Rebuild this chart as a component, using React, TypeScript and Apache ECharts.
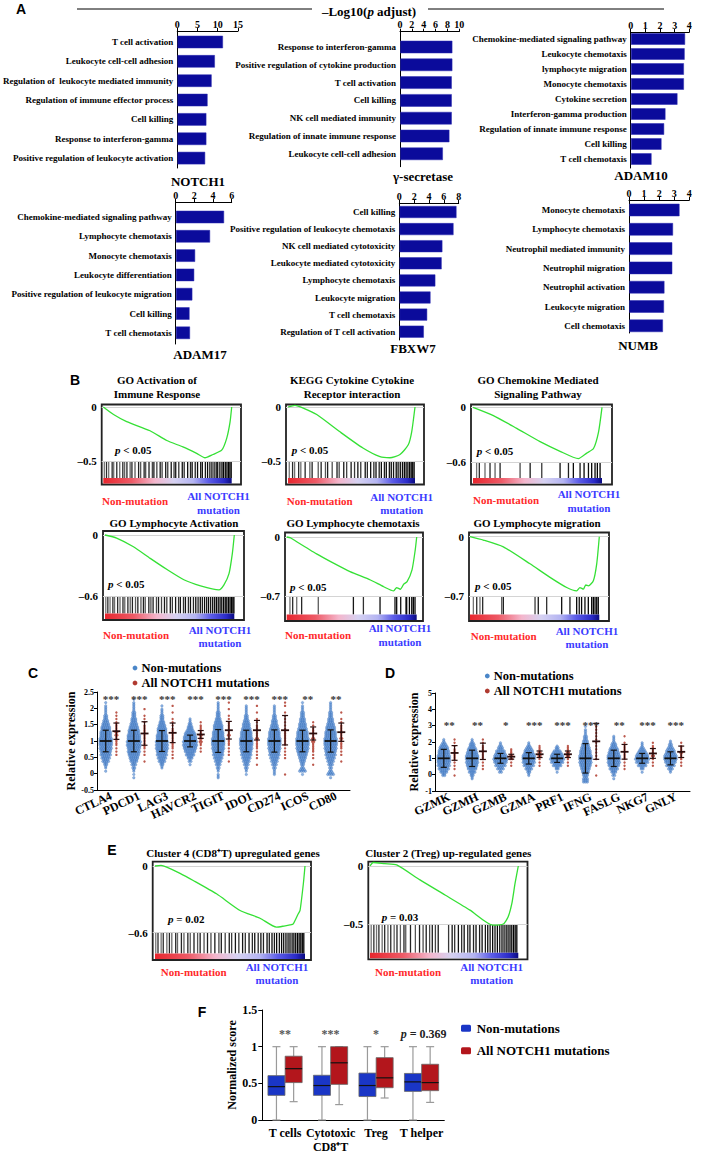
import React, { useEffect, useRef } from "react";
import * as echarts from "echarts";

const SERIF = "'Liberation Serif','Times New Roman',serif";
const SANS = "'Liberation Sans',Arial,sans-serif";

// ---------------- Panel A : GO terms, -log10(p adjust) ----------------
const notch1Terms = ["T cell activation", "Leukocyte cell-cell adhesion", "Regulation of  leukocyte mediated immunity", "Regulation of immune effector process", "Cell killing", "Response to interferon-gamma", "Positive regulation of leukocyte activation"];
const notch1Values = [11.1, 9.1, 8.3, 7.3, 7.0, 7.0, 6.7];
const gammaTerms = ["Response to interferon-gamma", "Positive regulation of cytokine production", "T cell activation", "Cell killing", "NK cell mediated immunity", "Regulation of innate immune response", "Leukocyte cell-cell adhesion"];
const gammaValues = [8.7, 8.7, 8.6, 8.6, 8.6, 8.2, 7.1];
const adam10Terms = ["Chemokine-mediated signaling pathway", "Leukocyte chemotaxis", "lymphocyte migration", "Monocyte chemotaxis", "Cytokine secretion", "Interferon-gamma production", "Regulation of innate immune response", "Cell killing", "T cell chemotaxis"];
const adam10Values = [3.66, 3.63, 3.58, 3.58, 3.14, 2.32, 2.23, 2.05, 1.37];
const adam17Terms = ["Chemokine-mediated signaling pathway", "Lymphocyte chemotaxis", "Monocyte chemotaxis", "Leukocyte differentiation", "Positive regulation of leukocyte migration", "Cell killing", "T cell chemotaxis"];
const adam17Values = [5.1, 3.6, 2.0, 1.9, 1.7, 1.4, 1.45];
const fbxw7Terms = ["Cell killing", "Positive regulation of leukocyte chemotaxis", "NK cell mediated cytotoxicity", "Leukocyte mediated cytotoxicity", "Lymphocyte chemotaxis", "Leukocyte migration", "T cell chemotaxis", "Regulation of T cell activation"];
const fbxw7Values = [7.6, 7.2, 5.7, 5.6, 4.75, 4.1, 3.65, 3.2];
const numbTerms = ["Monocyte chemotaxis", "Lymphocyte chemotaxis", "Neutrophil mediated immunity", "Neutrophil migration", "Neutrophil activation", "Leukocyte migration", "Cell chemotaxis"];
const numbValues = [3.3, 2.87, 2.82, 2.82, 2.3, 2.27, 2.2];

// ---------------- Panel B / E : GSEA running enrichment scores ----------------
const g1X = [0, 8, 18.2, 36.4, 49.4, 62, 72.7, 79.2, 85.4, 92.2, 96.1, 98.7, 100];
const g1Y = [0, -0.07, -0.136, -0.22, -0.31, -0.37, -0.43, -0.47, -0.44, -0.4, -0.29, -0.14, 0];
const g1Hits = [0.8, 2.5, 4.2, 6.9, 8.1, 10.5, 12.8, 15.2, 16.6, 18.4, 20.9, 22.3, 24.7, 27.5, 29.1, 31.8, 33.0, 35.6, 38.2, 39.4, 41.7, 44.3, 45.8, 48.6, 50.2, 52.9, 55.1, 56.4, 58.8, 61.5, 63.0, 65.7, 67.9, 69.2, 71.6, 73.4, 75.8, 77.1, 79.5, 81.2, 83.0, 84.6, 86.3, 87.9, 89.1, 90.8, 92.4, 93.6, 95.0, 96.3, 97.5, 98.6, 99.6];
const g2X = [0, 5.5, 12, 22.6, 40.9, 59, 72.4, 80.3, 88.2, 94.7, 97.4, 100];
const g2Y = [0, 0.015, -0.01, -0.07, -0.23, -0.38, -0.46, -0.47, -0.44, -0.35, -0.23, 0];
const g2Hits = [1.0, 3.6, 5.2, 8.4, 10.1, 13.5, 17.2, 19.0, 23.8, 26.1, 29.5, 31.2, 34.8, 38.6, 40.3, 43.9, 46.2, 49.7, 52.4, 55.0, 57.3, 60.8, 62.5, 65.1, 67.6, 69.3, 71.8, 73.5, 75.9, 77.4, 79.8, 81.3, 83.1, 85.2, 86.7, 88.4, 90.1, 91.6, 93.0, 94.4, 95.8, 97.0, 98.2, 99.3];
const g3X = [0, 15.8, 33.9, 52, 67.5, 81.7, 88.2, 93.4, 97.3, 100];
const g3Y = [0, -0.09, -0.23, -0.375, -0.48, -0.56, -0.5, -0.45, -0.27, 0];
const g3Hits = [2.8, 4.9, 9.3, 13.2, 17.1, 21.0, 36.5, 44.3, 53.3, 67.5, 74.0, 77.8, 83.0, 86.1, 89.5, 92.0, 94.6, 96.4, 98.5];
const g4X = [0, 9, 22, 35, 48, 61, 73.9, 88.1, 92, 95.9, 98.5, 100];
const g4Y = [0, -0.03, -0.116, -0.23, -0.34, -0.44, -0.5, -0.54, -0.49, -0.38, -0.18, 0];
const g4Hits = [0.6, 2.2, 3.9, 6.1, 7.4, 9.8, 11.6, 13.9, 15.3, 17.7, 19.5, 21.2, 23.6, 25.4, 27.8, 29.7, 31.1, 33.9, 35.5, 37.2, 39.8, 41.4, 43.7, 46.0, 47.8, 50.5, 52.1, 54.6, 56.9, 58.3, 60.7, 62.2, 64.5, 66.1, 68.4, 70.2, 72.0, 73.7, 75.3, 77.0, 78.6, 80.1, 81.7, 83.3, 84.8, 86.2, 87.6, 89.0, 90.3, 91.7, 93.0, 94.2, 95.5, 96.7, 97.8, 98.9, 99.7];
const g5X = [0, 3, 5, 23, 36, 48.7, 64.4, 74.6, 82.3, 84.5, 87.4, 90, 92.6, 96.4, 98.9, 100];
const g5Y = [0, -0.01, -0.03, -0.2, -0.31, -0.41, -0.51, -0.59, -0.64, -0.6, -0.62, -0.56, -0.53, -0.39, -0.15, 0];
const g5Hits = [2.5, 4.6, 7.7, 11.5, 24.3, 51.3, 59.0, 71.8, 83.3, 84.6, 87.7, 91.8, 92.3, 94.4, 96.2, 97.4, 98.7];
const g6X = [0, 10.3, 25.8, 46.4, 61.9, 74.8, 82.5, 85, 87.7, 89.5, 91.6, 95.4, 98, 100];
const g6Y = [0, -0.04, -0.12, -0.32, -0.48, -0.6, -0.64, -0.6, -0.62, -0.57, -0.58, -0.52, -0.32, 0];
const g6Hits = [2.6, 5.2, 7.7, 9.8, 24.5, 25.8, 50.3, 52.8, 59.3, 70.9, 77.3, 82.5, 84.5, 86.3, 88.9, 91.5, 94.1, 95.4, 96.7, 98.0, 99.2];
const e1X = [0, 4, 7.8, 16.7, 25.5, 41, 56.7, 70, 81, 86, 90, 92.2, 95.5, 96.7, 98.9, 100];
const e1Y = [0, 0.005, -0.01, -0.066, -0.13, -0.25, -0.4, -0.47, -0.55, -0.54, -0.53, -0.52, -0.43, -0.4, -0.16, 0];
const e1Hits = [0.5, 2.0, 4.1, 5.5, 7.9, 9.6, 11.2, 13.8, 15.0, 17.6, 19.3, 21.9, 23.5, 26.0, 28.4, 30.1, 32.7, 35.0, 37.3, 39.9, 42.6, 44.2, 46.8, 49.5, 51.1, 53.6, 55.9, 58.4, 60.2, 62.7, 64.9, 66.5, 68.8, 70.6, 72.3, 74.7, 76.2, 78.0, 79.6, 81.1, 82.9, 84.4, 85.8, 87.3, 88.7, 90.0, 91.4, 92.6, 93.8, 95.0, 96.1, 97.2, 98.2, 99.2];
const e2X = [0, 2.2, 10, 18, 33.7, 50.6, 67.4, 82.9, 89.9, 93.1, 95.7, 97.8, 100];
const e2Y = [0, 0.03, 0.02, 0.01, -0.12, -0.25, -0.38, -0.51, -0.5, -0.44, -0.32, -0.15, 0];
const e2Hits = [0.8, 2.6, 4.4, 6.0, 8.2, 9.9, 12.1, 14.0, 16.3, 18.2, 20.5, 22.9, 24.1, 27.3, 30.6, 33.4, 35.8, 37.9, 40.2, 42.0, 44.1, 46.0, 53.0, 55.4, 57.1, 59.6, 61.8, 63.5, 65.9, 67.4, 69.8, 71.5, 73.9, 75.6, 77.8, 79.4, 81.0, 82.7, 84.3, 85.9, 87.5, 89.0, 90.4, 91.8, 93.1, 94.4, 95.6, 96.8, 97.9, 99.0];

// ---------------- Panel C : immune checkpoint expression ----------------
const cGenes = ["CTLA4", "PDCD1", "LAG3", "HAVCR2", "TIGIT", "IDO1", "CD274", "ICOS", "CD80"];
const cStars = ["***", "***", "***", "***", "***", "***", "***", "**", "**"];
// counts per 0.1 bin, bins from -0.1 to 2.4
const cBlueCounts = [
  [0, 0, 1, 2, 4, 7, 9, 11, 12, 13, 14, 14, 13, 12, 11, 10, 8, 6, 4, 3, 2, 2, 1, 1, 0, 0],
  [1, 1, 2, 3, 5, 8, 10, 12, 13, 14, 15, 15, 14, 13, 12, 10, 8, 6, 5, 4, 3, 2, 2, 1, 1, 0],
  [0, 0, 0, 2, 4, 7, 9, 11, 12, 13, 13, 13, 12, 11, 10, 9, 7, 5, 4, 3, 2, 1, 1, 0, 0, 0],
  [0, 0, 0, 0, 1, 3, 6, 9, 12, 14, 15, 15, 14, 12, 9, 6, 4, 2, 1, 0, 0, 0, 0, 0, 0, 0],
  [2, 1, 2, 3, 5, 7, 9, 11, 12, 13, 14, 14, 13, 12, 11, 10, 9, 7, 5, 4, 3, 2, 2, 1, 0, 0],
  [0, 1, 2, 3, 5, 7, 9, 11, 12, 13, 14, 14, 13, 12, 11, 9, 8, 6, 4, 3, 2, 2, 1, 0, 0, 0],
  [0, 2, 2, 3, 5, 7, 9, 11, 12, 13, 14, 14, 13, 12, 11, 9, 7, 6, 4, 3, 2, 2, 1, 0, 0, 0],
  [0, 1, 7, 3, 4, 6, 8, 10, 12, 13, 14, 14, 13, 12, 11, 9, 8, 6, 5, 4, 3, 2, 1, 1, 0, 0],
  [1, 7, 3, 3, 5, 7, 9, 11, 12, 13, 14, 14, 13, 12, 11, 10, 8, 6, 5, 4, 3, 2, 2, 1, 0, 0],
];
const cRedCounts = [
  [0, 0, 0, 0, 0, 0, 0, 1, 1, 1, 2, 2, 2, 3, 3, 2, 2, 1, 1, 1, 1, 0, 0, 0, 0, 0],
  [0, 0, 0, 0, 0, 1, 0, 1, 1, 2, 2, 2, 2, 2, 2, 2, 1, 1, 1, 1, 0, 1, 0, 0, 0, 0],
  [0, 0, 0, 0, 0, 0, 1, 1, 1, 2, 2, 2, 2, 2, 2, 1, 1, 1, 1, 0, 1, 0, 1, 0, 0, 0],
  [0, 0, 0, 0, 0, 0, 0, 0, 1, 1, 2, 3, 3, 3, 2, 2, 1, 1, 0, 0, 0, 0, 0, 0, 0, 0],
  [0, 0, 0, 0, 0, 1, 0, 1, 1, 1, 2, 2, 2, 3, 2, 2, 2, 1, 1, 1, 0, 1, 0, 1, 0, 0],
  [0, 0, 0, 0, 1, 0, 1, 1, 1, 2, 2, 2, 3, 2, 2, 2, 1, 1, 1, 0, 1, 0, 1, 0, 0, 0],
  [0, 1, 0, 0, 0, 0, 1, 1, 1, 1, 2, 2, 2, 2, 2, 1, 1, 1, 1, 1, 1, 0, 1, 1, 0, 0],
  [0, 0, 0, 0, 1, 0, 1, 1, 2, 2, 2, 3, 3, 2, 2, 1, 1, 1, 0, 0, 0, 0, 0, 0, 0, 0],
  [0, 0, 0, 0, 0, 1, 0, 1, 1, 2, 2, 2, 3, 2, 2, 2, 1, 1, 1, 0, 1, 0, 0, 0, 0, 0],
];
const cBlueMean = [1, 1, 1, 1, 1, 1, 1, 1, 1];
const cBlueSD = [0.33, 0.33, 0.32, 0.18, 0.35, 0.33, 0.34, 0.33, 0.34];
const cRedMean = [1.3, 1.23, 1.25, 1.2, 1.33, 1.33, 1.33, 1.23, 1.27];
const cRedSD = [0.25, 0.36, 0.3, 0.12, 0.27, 0.3, 0.45, 0.2, 0.28];

// ---------------- Panel D : cytotoxic genes ----------------
const dGenes = ["GZMK", "GZMH", "GZMB", "GZMA", "PRF1", "IFNG", "FASLG", "NKG7", "GNLY"];
const dStars = ["**", "**", "*", "***", "***", "***", "**", "***", "***"];
// counts per 0.2 bin, bins from -0.4 to 3.2
const dBlueCounts = [
  [0, 0, 4, 8, 11, 13, 14, 14, 13, 12, 10, 7, 3, 1, 0, 0, 0, 0, 0],
  [0, 2, 4, 7, 10, 12, 13, 14, 13, 11, 9, 6, 3, 1, 0, 0, 0, 0, 0],
  [0, 0, 0, 3, 7, 11, 14, 15, 13, 10, 6, 3, 1, 0, 0, 0, 0, 0, 0],
  [0, 0, 2, 4, 7, 11, 13, 14, 13, 10, 7, 3, 1, 0, 0, 0, 0, 0, 0],
  [0, 0, 0, 1, 4, 9, 13, 15, 13, 9, 4, 1, 0, 0, 0, 0, 0, 0, 0],
  [6, 5, 6, 8, 10, 12, 13, 14, 13, 12, 10, 8, 6, 4, 3, 2, 1, 1, 0],
  [0, 1, 3, 6, 9, 12, 13, 14, 13, 11, 9, 6, 3, 2, 1, 0, 0, 0, 0],
  [0, 0, 0, 1, 4, 9, 13, 15, 13, 9, 5, 2, 1, 0, 0, 0, 0, 0, 0],
  [0, 0, 0, 2, 5, 9, 12, 14, 13, 10, 7, 4, 2, 0, 0, 0, 0, 0, 0],
];
const dRedCounts = [
  [0, 0, 1, 0, 1, 1, 1, 2, 2, 2, 1, 1, 1, 1, 0, 0, 0, 0, 0],
  [0, 0, 0, 0, 1, 1, 1, 2, 2, 2, 2, 1, 1, 1, 0, 0, 0, 0, 0],
  [0, 0, 0, 0, 0, 1, 1, 3, 3, 2, 1, 0, 0, 0, 0, 0, 0, 0, 0],
  [0, 0, 0, 0, 0, 1, 1, 2, 3, 3, 2, 1, 0, 0, 0, 0, 0, 0, 0],
  [0, 0, 0, 0, 0, 1, 1, 2, 3, 3, 2, 1, 0, 0, 0, 0, 0, 0, 0],
  [0, 0, 1, 0, 0, 1, 0, 1, 1, 1, 1, 1, 1, 1, 1, 1, 1, 1, 0],
  [0, 0, 0, 0, 1, 1, 1, 2, 2, 2, 2, 1, 1, 0, 1, 0, 0, 0, 0],
  [0, 0, 0, 0, 0, 1, 1, 2, 3, 2, 2, 1, 1, 0, 0, 0, 0, 0, 0],
  [0, 0, 0, 0, 0, 1, 1, 2, 2, 3, 2, 1, 1, 0, 0, 0, 0, 0, 0],
];
const dBlueMean = [1, 1, 1, 1, 1, 1, 1, 1, 1];
const dBlueSD = [0.55, 0.5, 0.3, 0.35, 0.25, 0.9, 0.5, 0.3, 0.4];
const dRedMean = [1.33, 1.43, 1.1, 1.25, 1.25, 2.04, 1.4, 1.3, 1.4];
const dRedSD = [0.45, 0.5, 0.15, 0.2, 0.2, 1.1, 0.45, 0.3, 0.35];

// ---------------- Panel F : normalized scores (min, Q1, median, Q3, max) ----------------
const fCategories = ["T cells", "Cytotoxic\nCD8⁺T", "Treg", "T helper"];
const fNonMut = [[0, 0.336, 0.455, 0.605, 1.0], [0, 0.336, 0.47, 0.61, 1.0], [0, 0.32, 0.47, 0.64, 1.0], [0, 0.39, 0.52, 0.635, 1.0]];
const fMut = [[0.25, 0.51, 0.7, 0.87, 1.0], [0.21, 0.486, 0.78, 1.0, 1.0], [0.3, 0.44, 0.575, 0.85, 1.0], [0.24, 0.4, 0.51, 0.76, 1.0]];
const fLabels = ["**", "***", "*", "{i|p} = 0.369"];

function txt(text: string, x: number, y: number, o: any = {}) {
  const align = o.align || "left";
  const va = o.va || "middle";
  return {
    type: "text", x, y, silent: true, z: 100,
    style: {
      text, fill: o.color || "#000", fontSize: o.size || 11, fontWeight: o.weight || "bold",
      fontFamily: o.family || SERIF, fontStyle: o.fstyle || "normal",
      align, textAlign: align, verticalAlign: va, textVerticalAlign: va,
      rich: o.rich,
    },
  };
}

function buildOption() {
  const grids: any[] = [];
  const xAxes: any[] = [];
  const yAxes: any[] = [];
  const series: any[] = [];
  const graphics: any[] = [];
  const italicRich = (size: number, color = "#000") => ({
    i: { fontStyle: "italic", fontWeight: "bold", fontSize: size, fontFamily: SERIF, fill: color, color },
  });

  // ---------- Panel A ----------
  const barPanels = [
    { title: "NOTCH1", names: notch1Terms, values: notch1Values, max: 15, interval: 5, x0: 175.7, len: 62.3, top: 31, bottom: 168, first: 42, step: 19.35, barH: 12, tx: 198, ty: 181 },
    { title: "γ-secretase", names: gammaTerms, values: gammaValues, max: 10, interval: 2, x0: 400, len: 59.3, top: 31.7, bottom: 166.7, first: 47, step: 17.8, barH: 12, tx: 423, ty: 176 },
    { title: "ADAM10", names: adam10Terms, values: adam10Values, max: 4, interval: 1, x0: 630.7, len: 58.6, top: 32, bottom: 168, first: 39, step: 15, barH: 11, tx: 641, ty: 175 },
    { title: "ADAM17", names: adam17Terms, values: adam17Values, max: 6, interval: 2, x0: 175.7, len: 56, top: 202, bottom: 344, first: 217, step: 19.3, barH: 12, tx: 200, ty: 354 },
    { title: "FBXW7", names: fbxw7Terms, values: fbxw7Values, max: 8, interval: 2, x0: 399.3, len: 59.4, top: 203, bottom: 340, first: 212, step: 17.1, barH: 11.5, tx: 413, ty: 348 },
    { title: "NUMB", names: numbTerms, values: numbValues, max: 4, interval: 1, x0: 629, len: 60.3, top: 200, bottom: 333, first: 210, step: 19.3, barH: 12, tx: 638, ty: 345 },
  ];
  barPanels.forEach((p) => {
    const n = p.names.length;
    const last = p.first + (n - 1) * p.step;
    grids.push({ left: p.x0, top: p.top, width: p.len, height: p.bottom - p.top });
    const gi = grids.length - 1;
    xAxes.push({
      gridIndex: gi, type: "value", position: "top", min: 0, max: p.max, interval: p.interval,
      axisLine: { show: true, onZero: false, lineStyle: { color: "#000", width: 1 } },
      axisTick: { show: true, length: 3, lineStyle: { color: "#000" } },
      axisLabel: { fontSize: 10, fontWeight: "bold", fontFamily: SERIF, color: "#000", margin: 2 },
      splitLine: { show: false },
    });
    const xi = xAxes.length - 1;
    yAxes.push({
      gridIndex: gi, type: "value", inverse: true,
      min: -(p.first - p.top) / p.step, max: n - 1 + (p.bottom - last) / p.step,
      axisLine: { show: true, onZero: false, lineStyle: { color: "#000", width: 1 } },
      axisTick: { show: false }, splitLine: { show: false },
      axisLabel: {
        customValues: p.names.map((_, i) => i),
        formatter: (v: number) => p.names[Math.round(v)] ?? "",
        fontSize: 9, fontWeight: "bold", fontFamily: SERIF, color: "#000", margin: 4,
      },
    });
    const yi = yAxes.length - 1;
    series.push({
      type: "custom", xAxisIndex: xi, yAxisIndex: yi, encode: { x: 0, y: 1 },
      data: p.values.map((v, i) => [v, i]),
      renderItem: (_: any, api: any) => {
        const a = api.coord([0, api.value(1)]);
        const b = api.coord([api.value(0), api.value(1)]);
        return { type: "rect", shape: { x: a[0] + 0.5, y: a[1] - p.barH / 2, width: b[0] - a[0], height: p.barH }, style: { fill: "#0b0b9b", stroke: "#2a2ab0", lineWidth: 0.5 } };
      },
    });
    graphics.push(txt(p.title, p.tx, p.ty, { size: 13, align: "center" }));
  });
  // header
  graphics.push({ type: "line", silent: true, shape: { x1: 77, y1: 9, x2: 312, y2: 9 }, style: { stroke: "#000", lineWidth: 1 } });
  graphics.push({ type: "line", silent: true, shape: { x1: 428, y1: 9, x2: 664, y2: 9 }, style: { stroke: "#000", lineWidth: 1 } });
  graphics.push(txt("–Log10({i|p} adjust)", 369, 11, { size: 13, align: "center", rich: italicRich(13) }));

  // ---------- Panels B & E : GSEA ----------
  const gseaPanels = [
    { title: ["GO Activation of", "Immune Response"], tx: 157, ty: 380, box: [101.7, 404.5, 241, 484.5], dataL: 103.3, dataR: 231.7, y0: 407, minLabel: -0.5, minPx: 461, xs: g1X, ys: g1Y, hits: g1Hits, p: "{i|p} < 0.05", px: 115, py: 450, nonX: 102, nonY: 501, allX: 218.5, allY: 496 },
    { title: ["KEGG Cytokine Cytokine", "Receptor interaction"], tx: 352, ty: 380, box: [286, 404.5, 424, 484.5], dataL: 288, dataR: 415, y0: 407, minLabel: -0.5, minPx: 461, xs: g2X, ys: g2Y, hits: g2Hits, p: "{i|p} < 0.05", px: 291.7, py: 450, nonX: 286.7, nonY: 501, allX: 401.7, allY: 496.5 },
    { title: ["GO Chemokine Mediated", "Signaling Pathway"], tx: 538, ty: 380, box: [471, 404.5, 612, 484.5], dataL: 473, dataR: 602, y0: 407.3, minLabel: -0.6, minPx: 462.3, xs: g3X, ys: g3Y, hits: g3Hits, p: "{i|p} < 0.05", px: 476.7, py: 451, nonX: 473, nonY: 499.7, allX: 589, allY: 494 },
    { title: ["GO Lymphocyte Activation"], tx: 174, ty: 523, box: [103, 531, 244, 620], dataL: 105, dataR: 234.3, y0: 535, minLabel: -0.6, minPx: 596, xs: g4X, ys: g4Y, hits: g4Hits, p: "{i|p} < 0.05", px: 108, py: 584, nonX: 103, nonY: 635, allX: 220, allY: 629.7 },
    { title: ["GO Lymphocyte chemotaxis"], tx: 353, ty: 523, box: [285, 532.5, 423, 621], dataL: 286.7, dataR: 416.7, y0: 537, minLabel: -0.7, minPx: 596, xs: g5X, ys: g5Y, hits: g5Hits, p: "{i|p} < 0.05", px: 290, py: 586.7, nonX: 285, nonY: 634.5, allX: 400, allY: 628.3 },
    { title: ["GO Lymphocyte migration"], tx: 537, ty: 523, box: [469, 532.5, 609, 621], dataL: 470, dataR: 599.3, y0: 536.7, minLabel: -0.7, minPx: 596, xs: g6X, ys: g6Y, hits: g6Hits, p: "{i|p} < 0.05", px: 475, py: 586, nonX: 470.7, nonY: 636, allX: 587, allY: 630.7 },
    { title: ["Cluster 4 (CD8⁺T) upregulated genes"], tx: 233, ty: 852.7, box: [152.7, 861.7, 311, 960], dataL: 155, dataR: 305, y0: 866, minLabel: -0.6, minPx: 932.7, xs: e1X, ys: e1Y, hits: e1Hits, p: "{i|p} = 0.02", px: 168, py: 919.3, nonX: 160.7, nonY: 971.7, allX: 277, allY: 966.7 },
    { title: ["Cluster 2 (Treg) up-regulated genes"], tx: 448.3, ty: 852.7, box: [368.3, 861.7, 527.5, 959.3], dataL: 370, dataR: 518.3, y0: 866, minLabel: -0.5, minPx: 924, xs: e2X, ys: e2Y, hits: e2Hits, p: "{i|p} = 0.03", px: 381.7, py: 917.3, nonX: 375, nonY: 972.3, allX: 491.7, allY: 966.7 },
  ];
  gseaPanels.forEach((g) => {
    const [l, t, r, b] = g.box;
    const u = (g.dataR - g.dataL) / 100;
    const xmin = -(g.dataL - l) / u;
    const xmax = 100 + (r - g.dataR) / u;
    const s = (g.minPx - g.y0) / -g.minLabel;
    const ymax = (g.y0 - t) / s;
    const ymin = -(b - g.y0) / s;
    const gradTop = -(b - 6.5 - g.y0) / s;
    const gradBot = -(b - 1 - g.y0) / s;
    grids.push({ left: l, top: t, width: r - l, height: b - t, show: true, borderColor: "#222", borderWidth: 1.8, backgroundColor: "#fff" });
    const gi = grids.length - 1;
    xAxes.push({ gridIndex: gi, type: "value", min: xmin, max: xmax, show: false });
    const xi = xAxes.length - 1;
    yAxes.push({
      gridIndex: gi, type: "value", min: ymin, max: ymax,
      axisLine: { show: false }, axisTick: { show: false }, splitLine: { show: false },
      axisLabel: {
        customValues: [g.minLabel, 0],
        formatter: (v: number) => (Math.abs(v) < 1e-9 ? "0" : "–" + Math.abs(v)),
        fontSize: 11, fontWeight: "bold", fontFamily: SERIF, color: "#000", margin: 5,
      },
    });
    const yi = yAxes.length - 1;
    series.push({
      type: "line", xAxisIndex: xi, yAxisIndex: yi, showSymbol: false, smooth: 0.2,
      data: g.xs.map((x, i) => [x, g.ys[i]]),
      lineStyle: { color: "#35e035", width: 1.3 }, z: 5,
      markLine: {
        silent: true, symbol: ["none", "none"], label: { show: false },
        lineStyle: { color: "#d4d4d4", width: 1, type: "solid" },
        data: [{ yAxis: 0 }, { yAxis: g.minLabel }],
      },
    });
    series.push({
      type: "custom", xAxisIndex: xi, yAxisIndex: yi, encode: { x: 0, y: 1 },
      data: g.hits.map((h) => [h, 0]),
      renderItem: (params: any, api: any) => {
        const h = api.value(0);
        const a = api.coord([h, g.minLabel]);
        const c = api.coord([h, gradTop]);
        const base = 150 * (1 - h / 100);
        const gray = Math.round(params.dataIndex % 2 ? base * 0.3 : base * 0.8);
        return { type: "line", shape: { x1: a[0], y1: a[1], x2: c[0], y2: c[1] }, style: { stroke: `rgb(${gray},${gray},${gray})`, lineWidth: 1.3 } };
      },
    });
    series.push({
      type: "custom", xAxisIndex: xi, yAxisIndex: yi, encode: { x: 0, y: 1 },
      data: [[0, 0]],
      renderItem: (_: any, api: any) => {
        const a = api.coord([0, gradTop]);
        const c = api.coord([100, gradBot]);
        return {
          type: "rect", shape: { x: a[0], y: a[1], width: c[0] - a[0], height: c[1] - a[1] },
          style: {
            fill: new echarts.graphic.LinearGradient(0, 0, 1, 0, [
              { offset: 0, color: "#e8262e" }, { offset: 0.22, color: "#ee5a66" }, { offset: 0.4, color: "#f4b6cc" },
              { offset: 0.55, color: "#d6d2f2" }, { offset: 0.7, color: "#b4b4f2" }, { offset: 0.82, color: "#5c5ce8" },
              { offset: 0.94, color: "#2a2ac8" }, { offset: 1, color: "#0a0a80" },
            ]),
          },
        };
      },
    });
    g.title.forEach((line, i) => graphics.push(txt(line, g.tx, g.ty + i * 14, { size: 11, align: "center" })));
    graphics.push(txt(g.p, g.px, g.py, { size: 11, rich: italicRich(11) }));
    graphics.push(txt("Non-mutation", g.nonX, g.nonY, { size: 11, color: "#ff2a2a" }));
    graphics.push(txt("All NOTCH1", g.allX, g.allY, { size: 11, align: "center", color: "#3b3bff" }));
    graphics.push(txt("mutation", g.allX, g.allY + 13.5, { size: 11, align: "center", color: "#3b3bff" }));
  });

  // ---------- Panels C & D : dot plots ----------
  const dotPanels = [
    { genes: cGenes, stars: cStars, blue: cBlueCounts, red: cRedCounts, bm: cBlueMean, bsd: cBlueSD, rm: cRedMean, rsd: cRedSD, left: 97, top: 692, width: 253, height: 98, ymin: -0.5, ymax: 2.5, yint: 0.5, start: -0.1, step: 0.1, nameGap: 19, starY: 2.3, lx: 135, ly: 668 },
    { genes: dGenes, stars: dStars, blue: dBlueCounts, red: dRedCounts, bm: dBlueMean, bsd: dBlueSD, rm: dRedMean, rsd: dRedSD, left: 435, top: 693, width: 255, height: 98, ymin: -1, ymax: 5, yint: 1, start: -0.4, step: 0.2, nameGap: 15, starY: 3.05, lx: 487.3, ly: 676 },
  ];
  dotPanels.forEach((p) => {
    grids.push({ left: p.left, top: p.top, width: p.width, height: p.height });
    const gi = grids.length - 1;
    xAxes.push({
      gridIndex: gi, type: "category", data: p.genes, position: "bottom",
      axisLine: { onZero: false, lineStyle: { color: "#000", width: 1 } }, axisTick: { show: false },
      axisLabel: { interval: 0, rotate: 25, fontSize: 12, fontWeight: "bold", fontFamily: SERIF, color: "#000", margin: 5 },
    });
    xAxes.push({ gridIndex: gi, type: "value", min: -0.5, max: p.genes.length - 0.5, show: false, position: "top" });
    const xv = xAxes.length - 1;
    yAxes.push({
      gridIndex: gi, type: "value", min: p.ymin, max: p.ymax, interval: p.yint,
      axisLine: { show: true, onZero: false, lineStyle: { color: "#000", width: 1 } },
      axisTick: { show: true, length: 3, lineStyle: { color: "#000" } }, splitLine: { show: false },
      axisLabel: { fontSize: 8, fontWeight: "bold", fontFamily: SERIF, color: "#000", margin: 3 },
      name: "Relative expression", nameLocation: "middle", nameGap: p.nameGap,
      nameTextStyle: { fontSize: 12, fontWeight: "bold", fontFamily: SERIF, color: "#000" },
    });
    const yi = yAxes.length - 1;
    const dx = 1.9 / (p.width / p.genes.length);
    const swarm = (counts: number[][], off: number) => {
      const pts: number[][] = [];
      counts.forEach((row, gIdx) =>
        row.forEach((n, i) => {
          const v = p.start + i * p.step;
          const n0 = Math.ceil(n / 2);
          const n1 = n - n0;
          for (let k = 0; k < n0; k++) pts.push([gIdx + off + (k - (n0 - 1) / 2) * dx, v - p.step / 4]);
          for (let k = 0; k < n1; k++) pts.push([gIdx + off + (k - (n1 - 1) / 2) * dx, v + p.step / 4]);
        })
      );
      return pts;
    };
    series.push({
      type: "scatter", xAxisIndex: xv, yAxisIndex: yi, symbolSize: 2.6, progressive: 0, large: false,
      data: swarm(p.blue, -0.19),
      itemStyle: { color: "rgba(86,142,212,0.85)", borderColor: "#2f63a8", borderWidth: 0.3 }, z: 2,
    });
    series.push({
      type: "scatter", xAxisIndex: xv, yAxisIndex: yi, symbolSize: 2.4, progressive: 0, large: false,
      data: swarm(p.red, 0.19),
      itemStyle: { color: "#b5473a", opacity: 0.9 }, z: 2,
    });
    const errBar = (mw: number, color: string) => (_: any, api: any) => {
      const x = api.value(0), m = api.value(1), sd = api.value(2);
      const c = api.coord([x, m]);
      const t = api.coord([x, m + sd]);
      const b = api.coord([x, m - sd]);
      const ls = { stroke: color, lineWidth: 1.2 };
      return {
        type: "group",
        children: [
          { type: "line", shape: { x1: c[0] - mw / 2, y1: c[1], x2: c[0] + mw / 2, y2: c[1] }, style: { stroke: color, lineWidth: 1.8 } },
          { type: "line", shape: { x1: c[0], y1: t[1], x2: c[0], y2: b[1] }, style: ls },
          { type: "line", shape: { x1: c[0] - 3, y1: t[1], x2: c[0] + 3, y2: t[1] }, style: ls },
          { type: "line", shape: { x1: c[0] - 3, y1: b[1], x2: c[0] + 3, y2: b[1] }, style: ls },
        ],
      };
    };
    series.push({
      type: "custom", xAxisIndex: xv, yAxisIndex: yi, encode: { x: 0, y: 1 }, z: 5,
      data: p.bm.map((m, i) => [i - 0.19, m, p.bsd[i]]), renderItem: errBar(12, "#111"),
    });
    series.push({
      type: "custom", xAxisIndex: xv, yAxisIndex: yi, encode: { x: 0, y: 1 }, z: 5,
      data: p.rm.map((m, i) => [i + 0.19, m, p.rsd[i]]), renderItem: errBar(8, "#2a0d0d"),
    });
    series.push({
      type: "custom", xAxisIndex: xv, yAxisIndex: yi, encode: { x: 0, y: 1 }, z: 6,
      data: p.stars.map((_, i) => [i, p.starY]),
      renderItem: (params: any, api: any) => {
        const c = api.coord([api.value(0), api.value(1)]);
        return { type: "text", x: c[0], y: c[1], style: { text: p.stars[params.dataIndex], fill: "#333", fontSize: 11, fontWeight: "bold", fontFamily: SERIF, align: "center", textAlign: "center", verticalAlign: "middle", textVerticalAlign: "middle" } };
      },
    });
    graphics.push({ type: "circle", silent: true, shape: { cx: p.lx, cy: p.ly, r: 2.4 }, style: { fill: "#4a86c8" } });
    graphics.push(txt("Non-mutations", p.lx + 6.5, p.ly, { size: 12.5 }));
    graphics.push({ type: "circle", silent: true, shape: { cx: p.lx, cy: p.ly + 15, r: 2.4 }, style: { fill: "#b03a30" } });
    graphics.push(txt("All NOTCH1 mutations", p.lx + 6.5, p.ly + 15, { size: 12.5 }));
  });

  // ---------- Panel F : box plots ----------
  grids.push({ left: 262.3, top: 1010, width: 182, height: 117.3 });
  const fg = grids.length - 1;
  xAxes.push({
    gridIndex: fg, type: "category", data: fCategories,
    axisLine: { onZero: false, lineStyle: { color: "#000", width: 1 } }, axisTick: { show: false },
    axisLabel: { interval: 0, fontSize: 12, fontWeight: "bold", fontFamily: SERIF, color: "#000", margin: 6, lineHeight: 14 },
  });
  const fx = xAxes.length - 1;
  yAxes.push({
    gridIndex: fg, type: "value", min: 0, max: 1.5, interval: 0.5,
    axisLine: { show: true, onZero: false, lineStyle: { color: "#000", width: 1 } },
    axisTick: { show: true, length: 4, lineStyle: { color: "#000" } }, splitLine: { show: false },
    axisLabel: { fontSize: 12, fontWeight: "bold", fontFamily: SERIF, color: "#000", margin: 5 },
    name: "Normalized score", nameLocation: "middle", nameGap: 24,
    nameTextStyle: { fontSize: 12, fontWeight: "bold", fontFamily: SERIF, color: "#000" },
  });
  const fy = yAxes.length - 1;
  const boxRender = (side: number, fill: string) => (_: any, api: any) => {
    const idx = api.value(0);
    const v = [1, 2, 3, 4, 5].map((k) => api.value(k));
    const cx = api.coord([idx, v[2]])[0] + side * 8.6;
    const y = (val: number) => api.coord([idx, val])[1];
    const w = 17;
    const ws = { stroke: "#9a9a9a", lineWidth: 1.2 };
    return {
      type: "group",
      children: [
        { type: "line", shape: { x1: cx, y1: y(v[0]), x2: cx, y2: y(v[1]) }, style: ws },
        { type: "line", shape: { x1: cx, y1: y(v[3]), x2: cx, y2: y(v[4]) }, style: ws },
        { type: "line", shape: { x1: cx - 4, y1: y(v[4]), x2: cx + 4, y2: y(v[4]) }, style: ws },
        { type: "line", shape: { x1: cx - 4, y1: y(v[0]), x2: cx + 4, y2: y(v[0]) }, style: ws },
        { type: "rect", shape: { x: cx - w / 2, y: y(v[3]), width: w, height: y(v[1]) - y(v[3]) }, style: { fill, stroke: "#666", lineWidth: 0.8 } },
        { type: "line", shape: { x1: cx - w / 2, y1: y(v[2]), x2: cx + w / 2, y2: y(v[2]) }, style: { stroke: "#111", lineWidth: 1.2 } },
      ],
    };
  };
  series.push({
    type: "custom", xAxisIndex: fx, yAxisIndex: fy, encode: { x: 0, y: [1, 2, 3, 4, 5] },
    data: fNonMut.map((r, i) => [i, ...r]), renderItem: boxRender(-1, "#1a36c6"),
  });
  series.push({
    type: "custom", xAxisIndex: fx, yAxisIndex: fy, encode: { x: 0, y: [1, 2, 3, 4, 5] },
    data: fMut.map((r, i) => [i, ...r]), renderItem: boxRender(1, "#b3161c"),
  });
  series.push({
    type: "custom", xAxisIndex: fx, yAxisIndex: fy, encode: { x: 0, y: 1 },
    data: fLabels.map((_, i) => [i, 1.17]),
    renderItem: (params: any, api: any) => {
      const c = api.coord([api.value(0), api.value(1)]);
      const isP = params.dataIndex === 3;
      return {
        type: "text", x: c[0] + (isP ? 2 : 0), y: c[1],
        style: {
          text: fLabels[params.dataIndex], fill: isP ? "#222" : "#555", fontSize: 12, fontWeight: "bold", fontFamily: SERIF,
          align: "center", textAlign: "center", verticalAlign: "middle", textVerticalAlign: "middle",
          rich: { i: { fontStyle: "italic", fontWeight: "bold", fontSize: 12, fontFamily: SERIF, fill: "#222" } },
        },
      };
    },
  });
  graphics.push({ type: "rect", silent: true, shape: { x: 461, y: 1024.8, width: 10, height: 7, r: 1.5 }, style: { fill: "#1a36c6" } });
  graphics.push(txt("Non-mutations", 476.7, 1028.3, { size: 13 }));
  graphics.push({ type: "rect", silent: true, shape: { x: 461, y: 1047.2, width: 10, height: 7, r: 1.5 }, style: { fill: "#b3161c" } });
  graphics.push(txt("All NOTCH1 mutations", 476.7, 1050.7, { size: 13 }));

  // panel letters
  const letters: [string, number, number][] = [["A", 21, 9], ["B", 75, 380], ["C", 33, 673], ["D", 390, 673], ["E", 112, 850], ["F", 202, 1012]];
  letters.forEach(([t, x, y]) => graphics.push(txt(t, x, y, { size: 14, family: SANS, align: "center" })));

  return {
    animation: false,
    backgroundColor: "#fff",
    grid: grids,
    xAxis: xAxes,
    yAxis: yAxes,
    series,
    graphic: graphics,
  };
}

export default function App() {
  const ref = useRef<HTMLDivElement>(null);
  useEffect(() => {
    if (!ref.current) return;
    const chart = echarts.init(ref.current, undefined, { renderer: "svg", width: 709, height: 1154 });
    chart.setOption(buildOption() as any);
    return () => chart.dispose();
  }, []);
  return <div ref={ref} style={{ position: "absolute", left: 0, top: 0, width: 709, height: 1154, background: "#fff" }} />;
}
